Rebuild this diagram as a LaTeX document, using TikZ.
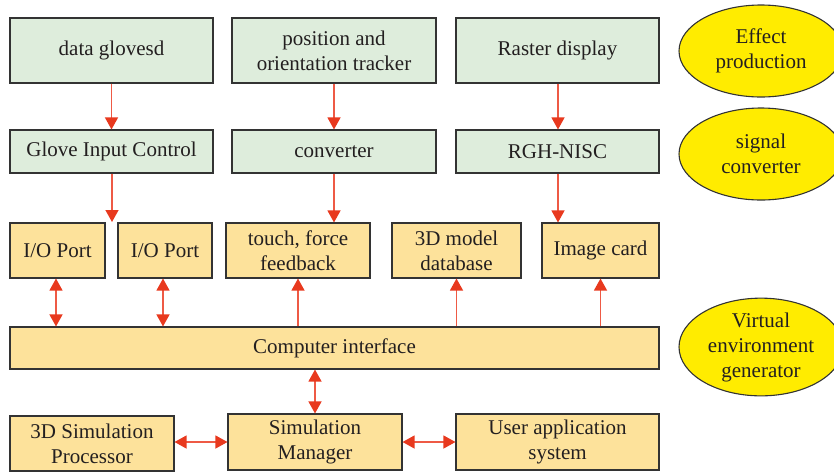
\documentclass[tikz,border=0pt]{standalone}
\usepackage{fontspec}
\setmainfont{Liberation Serif}
\usetikzlibrary{arrows.meta,shapes.geometric}
\definecolor{gfill}{HTML}{DEEDDC}
\definecolor{yfill}{HTML}{FDE29B}
\definecolor{efill}{HTML}{FFEC00}
\definecolor{edge}{HTML}{333333}
\definecolor{arr}{HTML}{E8391E}
\definecolor{arrline}{HTML}{EE5A45}
\definecolor{txt}{HTML}{231F20}
\tikzset{
  base/.style={draw=edge, line width=1.1pt, text=txt, align=center, inner sep=0pt,
    font=\fontsize{21}{25}\selectfont},
  gbox/.style={base, rectangle, fill=gfill},
  ybox/.style={base, rectangle, fill=yfill},
  ell/.style={base, ellipse, fill=efill, minimum width=164pt, minimum height=92pt},
  con/.style={draw=arrline, line width=1.3pt, -{Triangle[width=13pt,length=12pt,color=arr]}},
  dcon/.style={draw=arrline, line width=1.3pt, {Triangle[width=13pt,length=12pt,color=arr]}-{Triangle[width=13pt,length=12pt,color=arr]}},
}
\begin{document}
\begin{tikzpicture}[x=1pt,y=-1pt]
\useasboundingbox (0,0) rectangle (834,472);
% top row
\node[gbox, minimum width=203pt, minimum height=65pt] (dg) at (111.5,50.5) {data glovesd};
\node[gbox, minimum width=204pt, minimum height=65pt] (pos) at (334,50.5) {position and\\orientation tracker};
\node[gbox, minimum width=203pt, minimum height=65pt] (ras) at (557.5,50.5) {Raster display};
% second row
\node[gbox, minimum width=203pt, minimum height=43pt] (gic) at (111.5,151.5) {Glove Input Control};
\node[gbox, minimum width=204pt, minimum height=43pt] (conv) at (334,151.5) {converter};
\node[gbox, minimum width=203pt, minimum height=43pt] (rgh) at (557.5,151.5) {RGH-NISC};
% third row
\node[ybox, minimum width=95pt, minimum height=55pt] (io1) at (57.5,250.5) {I/O Port};
\node[ybox, minimum width=94pt, minimum height=55pt] (io2) at (165,250.5) {I/O Port};
\node[ybox, minimum width=144pt, minimum height=55pt] (touch) at (298,250.5) {touch, force\\feedback};
\node[ybox, minimum width=129pt, minimum height=55pt] (model) at (456.5,250.5) {3D model\\database};
\node[ybox, minimum width=117pt, minimum height=55pt] (img) at (600.5,250.5) {Image card};
% computer interface
\node[ybox, minimum width=649pt, minimum height=42pt] (ci) at (334.5,348) {Computer interface};
% bottom row
\node[ybox, minimum width=164pt, minimum height=55pt] (sp) at (92,443.5) {3D Simulation\\Processor};
\node[ybox, minimum width=174pt, minimum height=56pt] (sm) at (315,442) {Simulation\\Manager};
\node[ybox, minimum width=203pt, minimum height=56pt] (ua) at (557.5,442) {User application\\system};
% ellipses
\node[ell] (e1) at (761,51) {Effect\\production};
\node[ell] (e2) at (761,154) {signal\\converter};
\node[ell] (e3) at (761,347) {Virtual\\environment\\generator};
% connectors
\coordinate (gap) at (112,222);
\draw[con] (dg.south) -- (gic.north);
\draw[con] (pos.south) -- (conv.north);
\draw[con] ([xshift=0.5pt]ras.south) -- ([xshift=0.5pt]rgh.north);
\draw[con] (gic.south -| gap) -- (gap);
\draw[con] (conv.south) -- (conv.south |- touch.north);
\draw[con] ([xshift=0.5pt]rgh.south) -- ([xshift=0.5pt]rgh.south |- img.north);
\draw[dcon] ([xshift=-1.5pt]io1.south) -- ([xshift=-1.5pt]io1.south |- ci.north);
\draw[dcon] ([xshift=-2pt]io2.south) -- ([xshift=-2pt]io2.south |- ci.north);
\draw[con] (ci.north -| touch.south) -- (touch.south);
\draw[con] (ci.north -| model.south) -- (model.south);
\draw[con] (ci.north -| img.south) -- (img.south);
\draw[dcon] (sm.north |- ci.south) -- (sm.north);
\draw[dcon] (sm.west -| sp.east) -- (sm.west);
\draw[dcon] (sm.east) -- (ua.west);
\end{tikzpicture}
\end{document}
